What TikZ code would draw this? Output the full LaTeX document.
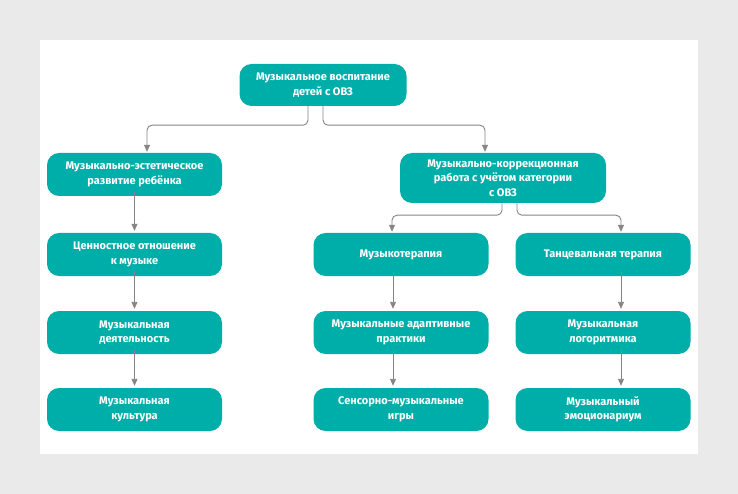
\documentclass[tikz,border=0pt]{standalone}
\usepackage{fontspec}
\setmainfont{Fira Sans}[BoldFont={Fira Sans Bold}]
\usetikzlibrary{arrows.meta}
\definecolor{teal1}{HTML}{00AEA9}
\definecolor{bgg}{HTML}{EAEAEA}
\definecolor{lineg}{HTML}{858585}
\tikzset{
  box/.style={fill=teal1, rounded corners=12pt, text=white, font=\bfseries\fontsize{11}{14.5}\selectfont, align=center, inner sep=0pt, minimum width=175pt, minimum height=43pt},
  arr/.style={draw=lineg, line width=0.9pt, rounded corners=5pt, -{Triangle[length=7pt,width=6pt]}}
}
\begin{document}
\begin{tikzpicture}[x=1pt,y=-1pt]
\fill[bgg] (0,0) rectangle (738,494);
\fill[white] (40,40) rectangle (698,454);
\useasboundingbox (0,0) rectangle (738,494);
\node[box, minimum width=167pt, minimum height=42pt] (root) at (323,85) {Музыкальное воспитание\\детей с ОВЗ};
\node[box] (l1) at (134.5,174.5) {Музыкально-эстетическое\\развитие ребёнка};
\node[box] (l2) at (134.5,254.5) {Ценностное отношение\\к музыке};
\node[box] (l3) at (134.5,332.5) {Музыкальная\\деятельность};
\node[box] (l4) at (134.5,409.5) {Музыкальная\\культура};
\node[box, minimum width=206pt, minimum height=50pt] (r0) at (503,178) {Музыкально-коррекционная\\работа с учётом категории\\с ОВЗ};
\node[box] (m1) at (401,254.5) {Музыкотерапия};
\node[box] (m2) at (401,332.5) {Музыкальные адаптивные\\практики};
\node[box] (m3) at (401,409.5) {Сенсорно-музыкальные\\игры};
\node[box] (t1) at (603,254.5) {Танцевальная терапия};
\node[box] (t2) at (603,332.5) {Музыкальная\\логоритмика};
\node[box] (t3) at (603,409.5) {Музыкальный\\эмоционариум};
% top branches
\draw[arr] ([xshift=-15pt]root.south) -- ++(0,19) -| ([xshift=12.5pt,yshift=1pt]l1.north);
\draw[arr] ([xshift=0pt]root.south) -- ++(0,19) -| ([xshift=-18pt,yshift=1pt]r0.north);
% right sub branches
\draw[arr] ([xshift=-1pt]r0.south) -- ++(0,12) -| ([xshift=-9pt,yshift=1pt]m1.north);
\draw[arr] ([xshift=14pt]r0.south) -- ++(0,12) -| ([xshift=18pt,yshift=1pt]t1.north);
% verticals
\draw[arr] ([yshift=4pt]l1.south) -- ([yshift=2pt]l2.north);
\draw[arr] ([yshift=4pt]l2.south) -- ([yshift=2pt]l3.north);
\draw[arr] ([yshift=4pt]l3.south) -- ([yshift=2pt]l4.north);
\draw[arr] ([xshift=-8pt,yshift=4pt]m1.south) -- ([xshift=-8pt,yshift=2pt]m2.north);
\draw[arr] ([xshift=-8pt,yshift=4pt]m2.south) -- ([xshift=-8pt,yshift=2pt]m3.north);
\draw[arr] ([xshift=18pt,yshift=4pt]t1.south) -- ([xshift=18pt,yshift=2pt]t2.north);
\draw[arr] ([xshift=18pt,yshift=4pt]t2.south) -- ([xshift=18pt,yshift=2pt]t3.north);
\end{tikzpicture}
\end{document}
